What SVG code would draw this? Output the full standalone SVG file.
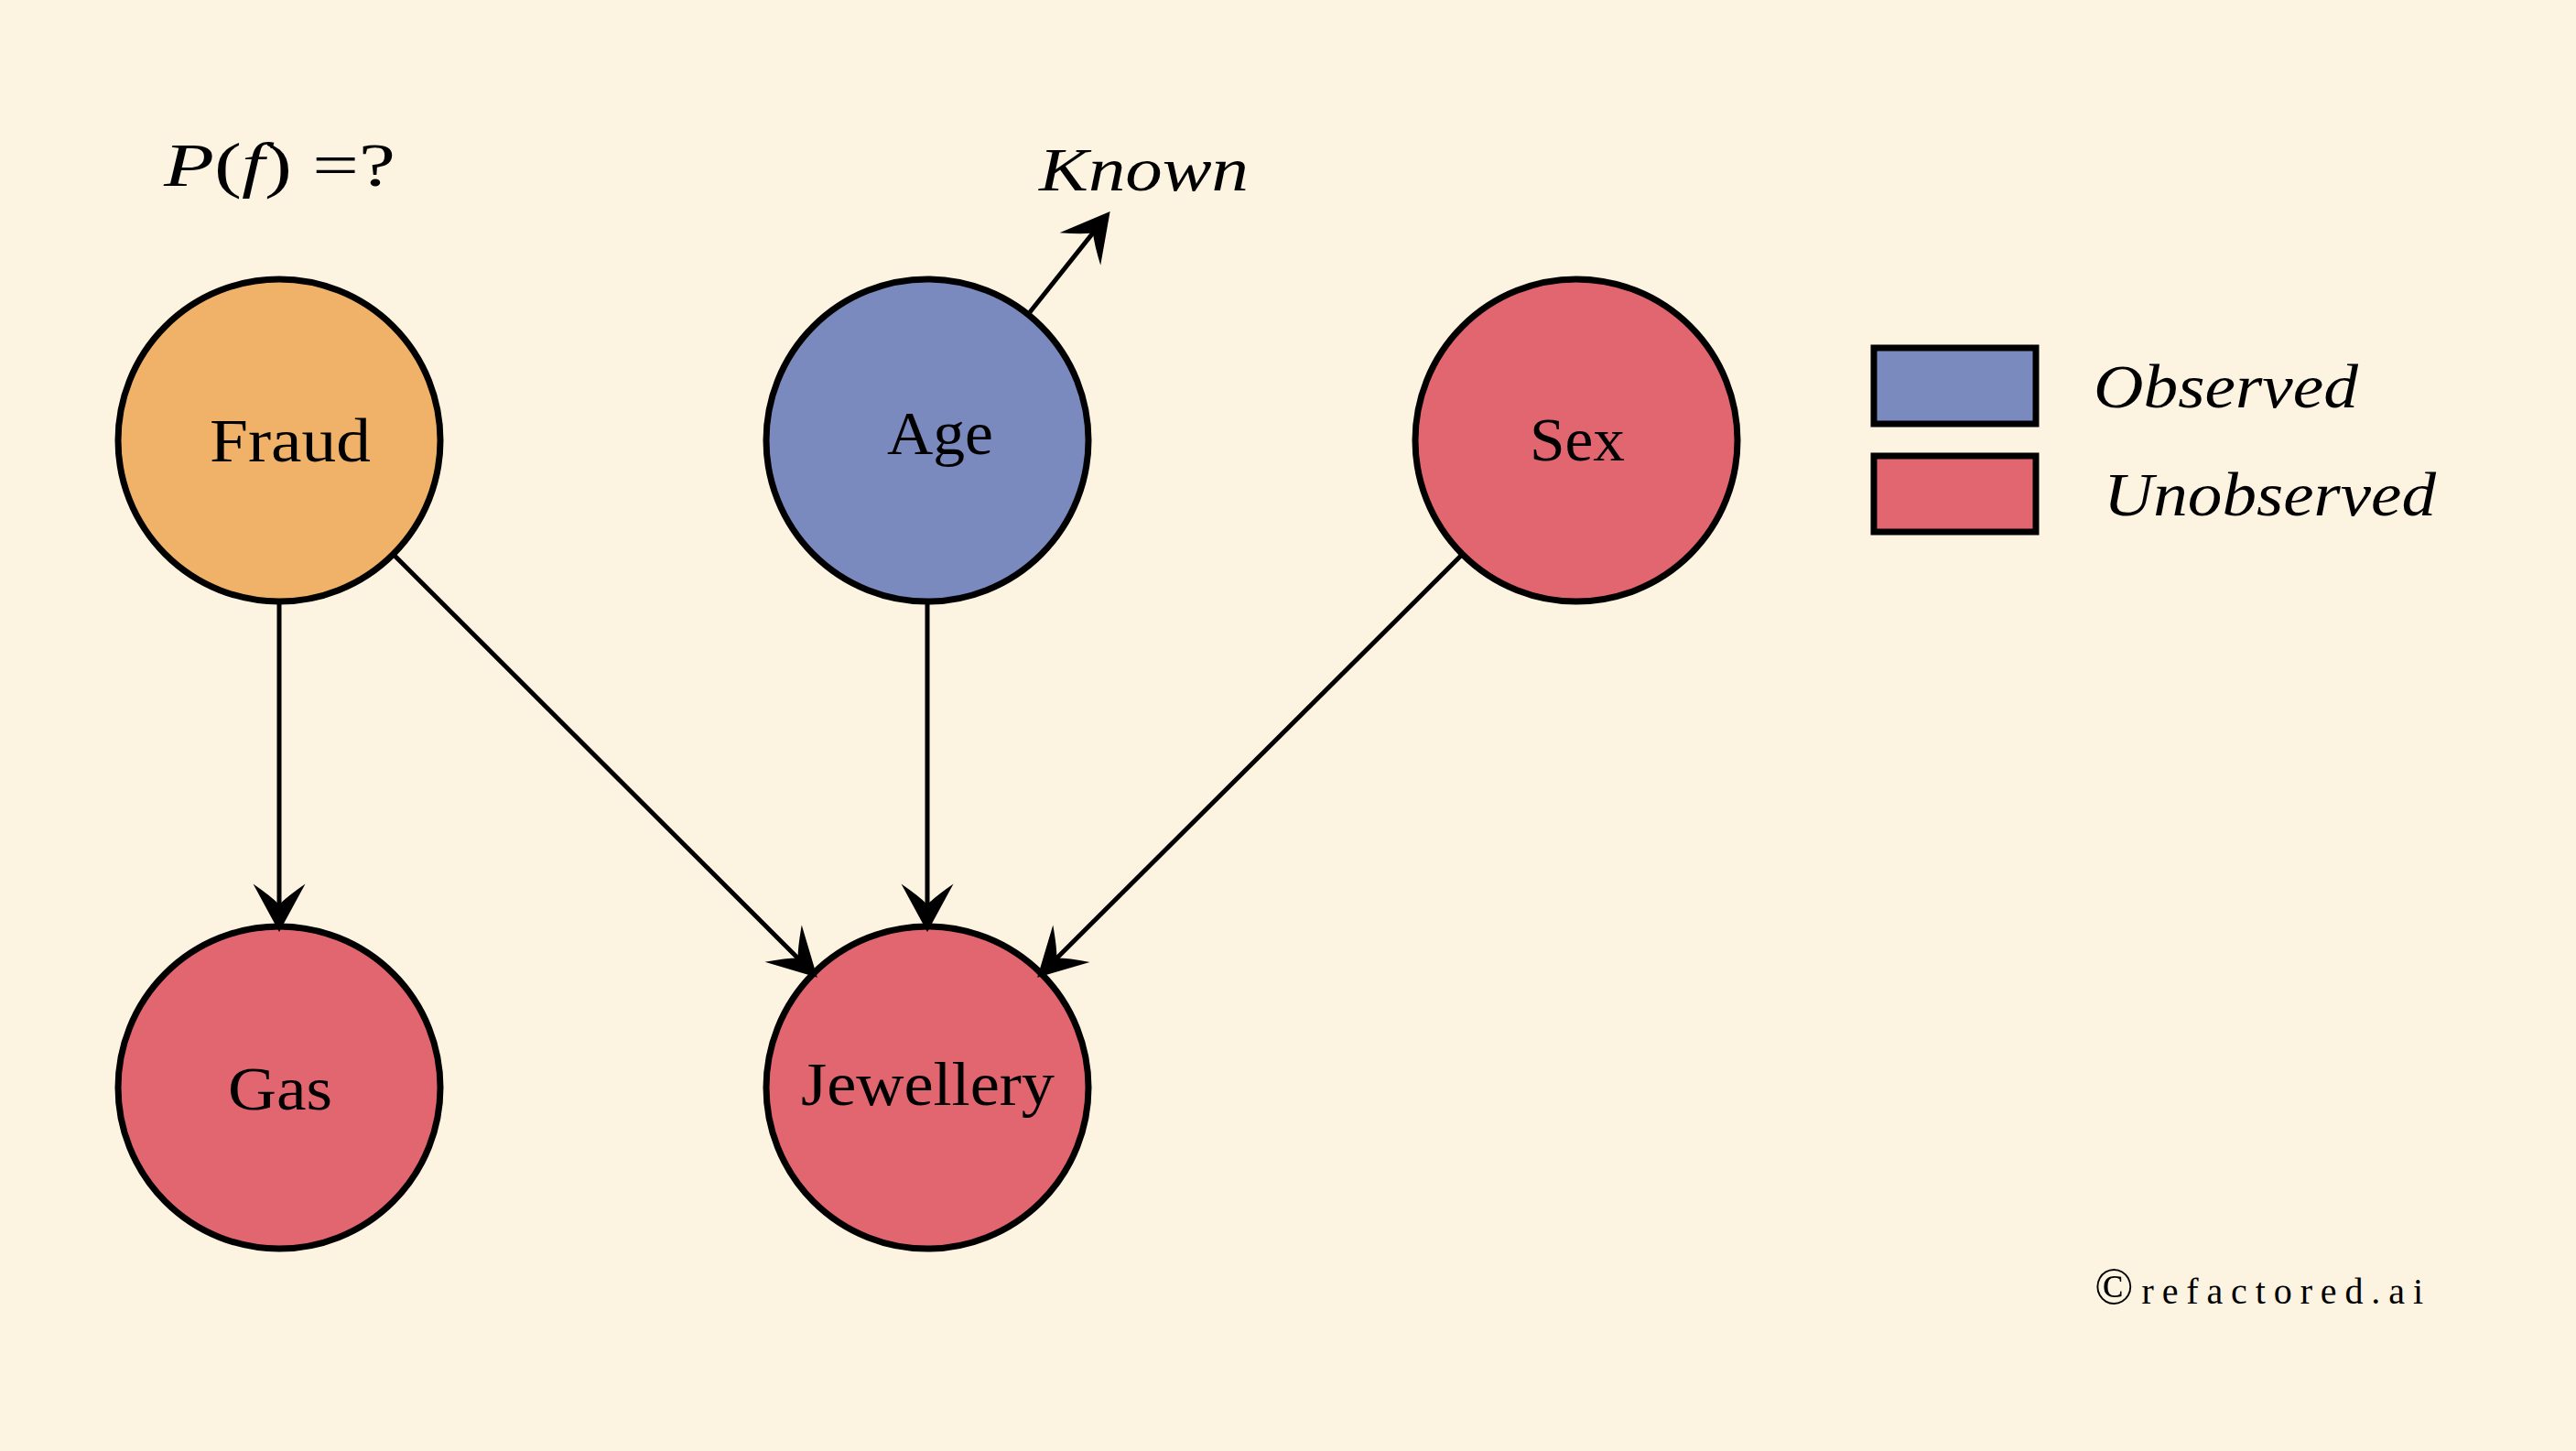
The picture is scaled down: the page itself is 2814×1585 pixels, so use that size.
<svg xmlns="http://www.w3.org/2000/svg" width="2814" height="1585" viewBox="0 0 2814 1585">
  <style>
    .node { stroke: #000; stroke-width: 7; }
    .fraud { fill: #F0B268; }
    .obs { fill: #7A8ABF; }
    .unobs { fill: #E16670; }
    .lbl { font-family: "Liberation Serif", "DejaVu Serif", serif; font-size: 68px; fill: #000; }
    .it { font-style: italic; }
    .edge { stroke: #000; stroke-width: 5; fill: none; marker-end: url(#arr); }
  </style>
  <defs>
    <marker id="arr" markerUnits="userSpaceOnUse" markerWidth="60" markerHeight="60" refX="0" refY="0" orient="auto" overflow="visible" viewBox="-20 -20 40 40">
      <path d="M18,0 L-17,-19 Q-8,-6 -2,0 Q-8,6 -17,19 Z" fill="#000"/>
    </marker>
  </defs>
  <rect x="0" y="0" width="2814" height="1585" fill="#FDF3E1"/>

  <g id="prior-label">
    <text class="lbl" x="179" y="203" textLength="253" lengthAdjust="spacingAndGlyphs"><tspan class="it">P</tspan>(<tspan class="it">f</tspan>) =?</text>
  </g>
  <g id="known-label">
    <text class="lbl it" x="1135" y="208" textLength="229" lengthAdjust="spacingAndGlyphs">Known</text>
  </g>

  <g id="fraud">
    <circle class="node fraud" cx="305" cy="481" r="176"/>
    <text class="lbl" x="229" y="504" textLength="176" lengthAdjust="spacingAndGlyphs">Fraud</text>
  </g>
  <g id="age">
    <circle class="node obs" cx="1013" cy="481" r="176"/>
    <text class="lbl" x="969" y="496" textLength="116" lengthAdjust="spacingAndGlyphs">Age</text>
  </g>
  <g id="sex">
    <circle class="node unobs" cx="1722" cy="481" r="176"/>
    <text class="lbl" x="1671" y="503" textLength="104" lengthAdjust="spacingAndGlyphs">Sex</text>
  </g>
  <g id="gas">
    <circle class="node unobs" cx="305" cy="1188" r="176"/>
    <text class="lbl" x="249" y="1212" textLength="114" lengthAdjust="spacingAndGlyphs">Gas</text>
  </g>
  <g id="jewellery">
    <circle class="node unobs" cx="1013" cy="1188" r="176"/>
    <text class="lbl" x="875" y="1207" textLength="277" lengthAdjust="spacingAndGlyphs">Jewellery</text>
  </g>

  <g id="connectors">
    <line class="edge" x1="305" y1="660" x2="305" y2="991"/>
    <line class="edge" x1="431.6" y1="607.6" x2="873.7" y2="1048.7"/>
    <line class="edge" x1="1013" y1="660" x2="1013" y2="991"/>
    <line class="edge" x1="1595.4" y1="607.6" x2="1152.3" y2="1048.7"/>
    <line class="edge" x1="1125" y1="341" x2="1195.8" y2="252.1"/>
  </g>

  <g id="legend">
    <g id="legend-observed">
      <rect class="node obs" x="2047" y="380" width="177" height="83"/>
      <text class="lbl it" x="2287" y="445" textLength="289" lengthAdjust="spacingAndGlyphs">Observed</text>
    </g>
    <g id="legend-unobserved">
      <rect class="node unobs" x="2047" y="498" width="177" height="83"/>
      <text class="lbl it" x="2298" y="563" textLength="363" lengthAdjust="spacingAndGlyphs">Unobserved</text>
    </g>
  </g>

  <g id="credit">
    <text font-family="'Liberation Serif', 'DejaVu Serif', serif" font-size="40" x="2288" y="1424" textLength="359" lengthAdjust="spacing"><tspan font-size="56">©</tspan>refactored.ai</text>
  </g>
</svg>
